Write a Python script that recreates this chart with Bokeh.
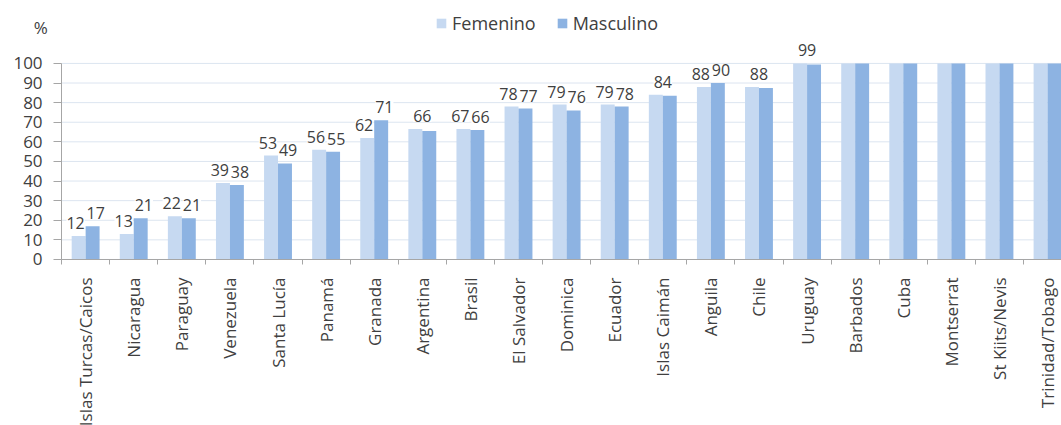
import math
from bokeh.plotting import figure
from bokeh.models import ColumnDataSource, FixedTicker, Range1d, Legend
from bokeh.transform import dodge
from bokeh.core.properties import value
from bokeh.embed import file_html
from bokeh.resources import INLINE

countries = ["Islas Turcas/Caicos", "Nicaragua", "Paraguay", "Venezuela", "Santa Lucía",
             "Panamá", "Granada", "Argentina", "Brasil", "El Salvador", "Dominica",
             "Ecuador", "Islas Caimán", "Anguila", "Chile", "Uruguay", "Barbados",
             "Cuba", "Montserrat", "St Kiits/Nevis", "Trinidad/Tobago"]
femenino = [12, 13, 22, 39, 53, 56, 62, 66.5, 66.5, 78, 79, 79, 84, 88, 88, 100, 100, 100, 100, 100, 100]
masculino = [17, 21, 21, 38, 49, 55, 71, 65.5, 66, 77, 76, 78, 83.5, 90, 87.5, 99.5, 100, 100, 100, 100, 100]
label_fem = ["12", "13", "22", "39", "53", "56", "62", "", "67", "78", "79", "79", "", "88", "", "", "", "", "", "", ""]
label_masc = ["17", "21", "21", "38", "49", "55", "71", "", "66", "77", "76", "78", "", "90", "", "", "", "", "", "", ""]
label_single = ["", "", "", "", "", "", "", "66", "", "", "", "", "84", "", "88", "99", "", "", "", "", ""]
y_ticks = list(range(0, 101, 10))
unit_label = "%"

n = len(countries)
centers = [i + 0.5 for i in range(n)]
source = ColumnDataSource(dict(
    x=centers, f=femenino, m=masculino, lf=label_fem, lm=label_masc, ls=label_single,
    top=[max(a, b) for a, b in zip(femenino, masculino)],
))

FONT = "Open Sans"
TXT = "#404040"
C_F = "#c6d9f1"
C_M = "#8db3e2"
AX = "#a6a6a6"

# the frame covers the whole canvas; both axes are drawn at fixed data locations
p = figure(width=1061, height=425, x_range=Range1d(-1.27, 20.79), y_range=Range1d(-84.7, 132.1),
           output_backend="svg", toolbar_location=None,
           min_border_left=0, min_border_right=0, min_border_top=0, min_border_bottom=0)
p.outline_line_color = None
p.background_fill_color = "white"

# horizontal grid lines limited to the category extent
p.segment(x0=[0] * len(y_ticks), x1=[n] * len(y_ticks), y0=y_ticks, y1=y_ticks,
          line_color="#dce5f0", line_width=1, level="underlay")

bw = 0.29
rf = p.vbar(x=dodge("x", -bw / 2, range=p.x_range), top="f", width=bw, source=source,
            fill_color=C_F, line_color=None)
rm = p.vbar(x=dodge("x", bw / 2, range=p.x_range), top="m", width=bw, source=source,
            fill_color=C_M, line_color=None)

common = dict(text_font=value(FONT), text_font_size="16px", text_color=TXT,
              text_align="center", text_baseline="bottom", y_offset=-7,
              background_fill_color="white", source=source)
p.text(x=dodge("x", -0.21, range=p.x_range), y="f", text="lf", **common)
p.text(x=dodge("x", 0.21, range=p.x_range), y="m", text="lm", **common)
p.text(x="x", y="top", text="ls", **common)

p.text(x=[-0.58], y=[118.5], text=[unit_label], text_font=value(FONT), text_font_size="17px",
       text_color=TXT, text_align="left", text_baseline="middle")

# x axis
xa = p.xaxis[0]
xa.fixed_location = 0
xa.ticker = FixedTicker(ticks=centers, minor_ticks=list(range(0, n + 1)))
xa.bounds = (0, n)
xa.major_label_overrides = {c: name for c, name in zip(centers, countries)}
xa.major_label_orientation = math.pi / 2
xa.major_tick_line_color = None
xa.major_tick_out = 0
xa.major_tick_in = 0
xa.minor_tick_out = 5
xa.minor_tick_in = 0
xa.minor_tick_line_color = AX
xa.axis_line_color = AX
xa.major_label_standoff = 13
xa.major_label_text_font = FONT
xa.major_label_text_font_size = "17px"
xa.major_label_text_color = TXT

# y axis drawn at the start of the categories
ya = p.yaxis[0]
ya.fixed_location = 0
ya.ticker = FixedTicker(ticks=y_ticks)
ya.bounds = (0, 100)
ya.axis_line_color = AX
ya.major_tick_line_color = AX
ya.major_tick_out = 8
ya.major_tick_in = 0
ya.minor_tick_line_color = None
ya.major_label_standoff = 11
ya.major_label_text_font = FONT
ya.major_label_text_font_size = "17px"
ya.major_label_text_color = TXT

p.xgrid.grid_line_color = None
p.ygrid.grid_line_color = None

legend = Legend(items=[("Femenino", [rf]), ("Masculino", [rm])], orientation="horizontal",
                location=(435, 390), padding=0, margin=0, spacing=20,
                glyph_width=12, glyph_height=12, label_standoff=5,
                label_text_font=FONT, label_text_font_size="18px", label_text_color=TXT,
                background_fill_alpha=0, border_line_color=None)
p.add_layout(legend)

open("out.html", "w").write(file_html(p, INLINE))
